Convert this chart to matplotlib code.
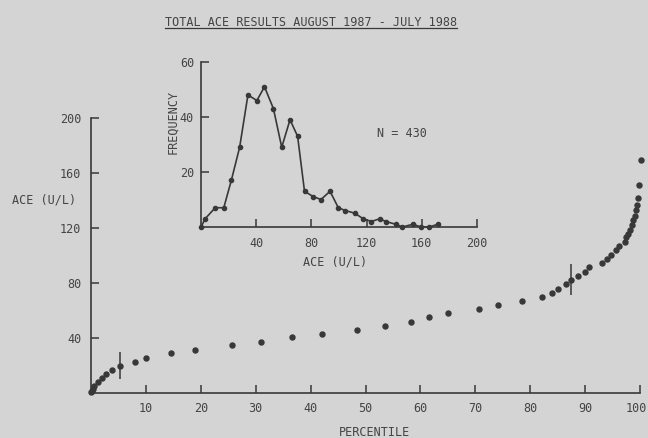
import numpy as np
import matplotlib.pyplot as plt
from matplotlib.lines import Line2D
from matplotlib.transforms import ScaledTranslation

# percentile plot (main panel)
pct = [0.0, 0.1, 0.3, 0.6, 1.2, 2.0, 2.8, 3.8, 5.3, 8.0, 10.0, 14.6, 18.9, 25.6,
       30.9, 36.6, 42.1, 48.4, 53.5, 58.3, 61.5, 65.0, 70.6, 74.1, 78.5, 82.1,
       84.0, 85.0, 86.6, 87.5, 88.7, 89.9, 90.8, 93.0, 94.0, 94.7, 95.6, 96.2,
       97.3, 97.5, 97.8, 98.2, 98.5, 98.8, 99.1, 99.3, 99.5, 99.7, 99.9, 100.1]
ace = [0.5, 1.5, 3.2, 5.0, 8.0, 10.9, 13.8, 16.5, 20.0, 22.8, 25.5, 28.9, 31.3,
       34.7, 37.4, 40.5, 43.2, 46.1, 49.0, 51.9, 55.3, 58.2, 61.1, 64.3, 66.9,
       70.1, 73.0, 75.9, 79.0, 82.5, 85.4, 88.3, 91.4, 94.5, 97.2, 100.1, 103.8,
       106.7, 109.8, 113.5, 115.9, 118.3, 122.0, 125.6, 128.5, 132.9, 136.5,
       142.1, 151.6, 169.7]

# the two error bars
err_x = [5.3, 87.5]
err_lo = [10.0, 71.6]
err_hi = [30.0, 93.6]

# frequency distribution (inset)
ace_bin = [0, 3.0, 10.3, 16.5, 22.0, 28.0, 34.0, 40.5, 46.0, 52.5, 58.5, 64.5,
           70.0, 75.0, 81.5, 87.0, 93.5, 99.5, 104.5, 111.5, 117.5, 123.5,
           129.5, 134.0, 141.0, 146.0, 153.5, 159.5, 165.5, 171.5]
freq = [0, 3, 7, 7, 17, 29, 48, 46, 51, 43, 29, 39, 33, 13, 11, 10, 13, 7, 6,
        5, 3, 2, 3, 2, 1, 0, 1, 0, 0, 1]

bg = '#d4d4d4'
ink = '#383838'
txt = '#444444'
plt.rcParams['font.family'] = ['DejaVu Sans Mono']
plt.rcParams['font.size'] = 8.5

fig = plt.figure(figsize=(6.48, 4.38), dpi=100, facecolor=bg)

# main axes
ax = fig.add_axes([91 / 648, 1 - 393 / 438, 549 / 648, 275 / 438])
ax.set_facecolor('none')
ax.plot(pct, ace, 'o', color=ink, ms=3.6, clip_on=False)
ax.vlines(err_x, err_lo, err_hi, color=ink, lw=1.1)
ax.set_xlim(0, 100)
ax.set_ylim(0, 200)
ax.set_xticks(range(10, 101, 10))
ax.set_yticks([40, 80, 120, 160, 200])
for s in ['top', 'right']:
    ax.spines[s].set_visible(False)
for s in ['left', 'bottom']:
    ax.spines[s].set_color(ink)
    ax.spines[s].set_linewidth(1.2)
ax.tick_params(direction='in', length=5.5, width=1.1, color=ink,
               labelcolor=txt, labelsize=8.5)
ax.tick_params(axis='x', pad=6.5)
ax.tick_params(axis='y', pad=7)

# the last label sits against the right edge, nudge it in a bit
last = ax.get_xticklabels()[-1]
last.set_transform(last.get_transform() + ScaledTranslation(-4 / 100, 0, fig.dpi_scale_trans))

fig.text(12 / 648, 1 - 200 / 438, 'ACE (U/L)', ha='left', va='center',
         color=txt, fontsize=8.5)
fig.text(374 / 648, 1 - 432 / 438, 'PERCENTILE', ha='center', va='center',
         color=txt, fontsize=8.5)

# inset histogram
ins = fig.add_axes([201 / 648, 1 - 227 / 438, 276 / 648, 165 / 438])
ins.set_facecolor('none')
ins.plot(ace_bin, freq, '-o', color=ink, lw=1.2, ms=3, clip_on=False)
ins.set_xlim(0, 200)
ins.set_ylim(0, 60)
ins.set_xticks([40, 80, 120, 160, 200])
ins.set_yticks([20, 40, 60])
for s in ['top', 'right']:
    ins.spines[s].set_visible(False)
for s in ['left', 'bottom']:
    ins.spines[s].set_color(ink)
    ins.spines[s].set_linewidth(1.2)
ins.tick_params(direction='in', length=5.5, width=1.1, color=ink,
                labelcolor=txt, labelsize=8.5)
ins.tick_params(axis='x', pad=7)
ins.tick_params(axis='y', pad=5)
ins.text(127.7, 34, 'N = 430', ha='left', va='center', color=txt, fontsize=8.5)

fig.text(335 / 648, 1 - 262 / 438, 'ACE (U/L)', ha='center', va='center',
         color=txt, fontsize=8.5)
fig.text(173 / 648, 1 - 122 / 438, 'FREQUENCY', ha='center', va='center',
         rotation=90, color=txt, fontsize=8.5)

# underlined title
title = fig.text(311 / 648, 1 - 22 / 438, 'TOTAL ACE RESULTS AUGUST 1987 - JULY 1988',
                 ha='center', va='center', color=txt, fontsize=8.5)
fig.canvas.draw()
bb = title.get_window_extent().transformed(fig.transFigure.inverted())
fig.add_artist(Line2D([bb.x0, bb.x1], [bb.y0 + 0.002, bb.y0 + 0.002],
                      transform=fig.transFigure, color=ink, lw=0.9))

fig.savefig('out.png', dpi=100, facecolor=bg)
